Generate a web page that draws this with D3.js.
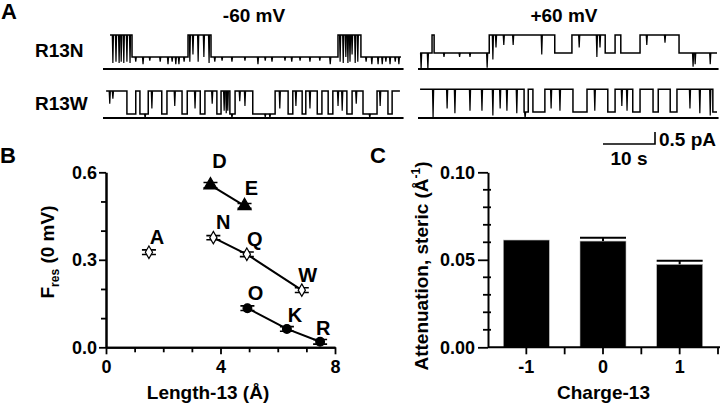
<!DOCTYPE html>
<html>
<head>
<meta charset="utf-8">
<script src="https://cdn.jsdelivr.net/npm/d3@7"></script>
<style>
  body { margin: 0; background: #fff; }
  svg text { font-family: "Liberation Sans", Arial, sans-serif; font-weight: bold; fill: #000; }
</style>
</head>
<body>
<svg id="fig" width="720" height="408"></svg>
<script>
// ---- panel A: single channel records, [time (s), current (pA)] steps ----
var voltages = ["-60 mV", "+60 mV"];
var mutants = ["R13N", "R13W"];

var r13nNeg = [[1.35,1.42],[5.58,0.5],[16.35,1.42],[20.77,0.5],[45.19,1.42],[49.6,0.5],[57.3,0.5]];
var r13nNegSpikes = [[1.9,0.25],[2.5,0.3],[3.1,0.25],[3.5,0.3],[4.0,0.25],[4.6,0.3],[5.2,0.25],
  [16.7,0.3],[17.3,0.6],[18.3,0.3],[19.4,0.5],[20.4,0.25],
  [45.6,0.3],[46.2,0.25],[46.7,0.5],[47.1,0.25],[47.5,0.3],[47.9,0.6],[48.5,0.25],[49.0,0.3],
  [6.3,0.3],[7.7,0.2],[9.0,0.35],[11.0,0.3],[12.5,0.2],[13.3,0.3],[14.0,0.2],[14.6,0.2],[15.6,0.3],
  [21.5,0.3],[22.9,0.35],[24.8,0.3],[27.3,0.35],[29.8,0.2],[31.2,0.35],[32.5,0.3],[35.0,0.35],
  [36.3,0.3],[37.9,0.35],[39.8,0.3],[41.7,0.35],[43.7,0.2],[50.6,0.3],[51.7,0.2],[52.9,0.2],
  [53.7,0.2],[54.4,0.3],[55.2,0.2],[56.2,0.3],[56.9,0.2]];

var r13wNeg = [[0.6,1.12],[4.6,0.17],[6.3,1.12],[7.1,0.17],[8.7,1.12],[11.3,0.17],[12.3,1.12],[15.2,0.17],
  [16.2,1.12],[18.7,0.17],[19.6,1.12],[21.9,0.17],[22.7,1.12],[24.4,0.17],[25.4,1.12],[28.8,0.17],
  [33.1,1.12],[35.6,0.17],[36.5,1.12],[38.3,0.17],[39.0,1.12],[41.2,0.17],[42.1,1.12],[43.3,0.17],
  [44.2,1.12],[46.9,0.17],[47.9,1.12],[50.0,0.17],[52.7,1.12],[54.8,0.17],[55.6,1.12],[57.1,1.12]];
var r13wNegSpikes = [[1.3,0.6],[1.9,0.8],[9.4,0.4],[13.8,0.5],[17.7,0.4],[21.0,0.6],[23.3,0.3],[23.7,0.2],
  [24.0,0.3],[26.3,0.7],[27.3,0.5],[34.0,0.4],[37.1,0.5],[39.8,0.4],[45.2,0.5],[46.0,0.3],[48.7,0.6],
  [53.3,0.5],[8.1,0.0],[24.8,0.0],[31.2,0.05],[32.1,0.0],[51.3,0.0]];

var r13nPos = [[0.4,0.67],[2.7,1.42],[3.1,0.67],[13.7,1.42],[26.3,0.67],[29.6,1.42],[36.0,0.67],
  [37.9,1.42],[39.0,0.67],[42.7,1.42],[50.2,0.67],[57.5,0.67]];
var r13nPosSpikes = [[0.6,0.0],[1.9,0.0],[5.0,0.5],[8.0,0.5],[10.0,0.5],[13.3,0.05],[14.4,0.4],
  [15.0,0.9],[16.5,1.0],[18.3,1.0],[23.8,0.6],[31.0,0.9],[34.4,0.5],[35.0,0.9],[44.0,1.0],
  [47.5,1.1],[52.9,0.1],[53.3,0.2],[56.2,0.2]];

var r13wPos = [[0.4,1.2],[20.4,0.25],[21.2,1.2],[22.1,0.25],[24.4,1.2],[29.8,0.25],[32.5,1.2],[36.5,0.25],
  [37.9,1.2],[41.3,0.25],[42.7,1.2],[45.2,0.25],[46.2,1.2],[48.5,0.25],[49.8,1.2],[56.7,0.25],[57.5,0.25]];
var r13wPosSpikes = [[2.9,0.0],[5.6,0.4],[7.1,0.2],[10.0,0.3],[12.3,0.3],[14.4,0.1],[15.8,0.4],
  [17.1,0.3],[19.0,0.2],[20.6,0.0],[25.6,0.4],[27.3,0.3],[34.0,0.3],[39.2,0.5],[40.2,0.3],
  [52.3,0.4],[54.2,0.2],[56.2,0.1]];

var recordLength = 57.8;   // s
var scaleBarTime = 10;     // s
var scaleBarCurrent = 0.5; // pA

// ---- panel B ----
var bNames  = ["A", "D", "E", "N", "Q", "W", "O", "K", "R"];
var bLength = [1.5, 3.65, 4.84, 3.75, 4.92, 6.84, 4.94, 6.32, 7.48];
var bFres   = [0.326, 0.556, 0.485, 0.376, 0.319, 0.196, 0.134, 0.063, 0.019];
var bErr    = [0.008, 0.009, 0.008, 0.007, 0.008, 0.008, 0.008, 0.008, 0.008];
var bKind   = ["open", "tri", "tri", "open", "open", "open", "dot", "dot", "dot"];
var bLines  = [["D", "E"], ["N", "Q", "W"], ["O", "K", "R"]];

// ---- panel C ----
var cCharge = ["-1", "0", "1"];
var cAtten  = [0.0613, 0.0607, 0.0474];
var cErr    = [0.0, 0.0019, 0.0021];

var svg = d3.select("#fig");

function letter(txt, x, y) {
  svg.append("text").attr("x", x).attr("y", y).style("font-size", "22px").text(txt);
}

// ================= A =================
letter("A", 1, 19);

var secs = d3.scaleLinear().domain([0, 10]).range([0, 52]);
var amps = d3.scaleLinear().domain([0, 1]).range([0, -24]);

var colX = [103, 418];
var rowY = [69, 118];
var records = [[r13nNeg, r13nNegSpikes], [r13nPos, r13nPosSpikes], [r13wNeg, r13wNegSpikes], [r13wPos, r13wPosSpikes]];

svg.selectAll("text.volt").data(voltages).join("text")
  .attr("class", "volt")
  .attr("x", (d, i) => [254, 564][i])
  .attr("y", 22)
  .attr("text-anchor", "middle")
  .style("font-size", "19px")
  .text(d => d);

svg.selectAll("text.mut").data(mutants).join("text")
  .attr("class", "mut")
  .attr("x", 35)
  .attr("y", (d, i) => [57, 110][i])
  .style("font-size", "19px")
  .text(d => d);

function levelAt(steps, t) {
  var lv = steps[0][1];
  steps.forEach(function(s) { if (s[0] <= t) lv = s[1]; });
  return lv;
}

var traceLine = d3.line()
  .x(d => secs(d[0]))
  .y(d => amps(d[1]))
  .curve(d3.curveStepAfter);

records.forEach(function(rec, k) {
  var g = svg.append("g")
    .attr("transform", `translate(${colX[k % 2]}, ${rowY[Math.floor(k / 2)]})`);
  // zero current line
  g.append("line")
    .attr("x1", secs(0)).attr("x2", secs(recordLength))
    .attr("y1", amps(0)).attr("y2", amps(0))
    .attr("stroke", "#000").attr("stroke-width", 2);
  g.append("path")
    .attr("d", traceLine(rec[0]))
    .attr("fill", "none")
    .attr("stroke", "#000")
    .attr("stroke-width", 1.5);
  g.selectAll("path.spike").data(rec[1]).join("path")
    .attr("class", "spike")
    .attr("d", function(d) {
      var x = secs(d[0]), y0 = amps(levelAt(rec[0], d[0])), y1 = amps(d[1]);
      return `M${x - 0.6},${y0}L${x},${y1}L${x + 0.6},${y0}`;
    })
    .attr("fill", "none")
    .attr("stroke", "#000")
    .attr("stroke-width", 1.2);
});

// scale bar
var sb = svg.append("g").attr("transform", "translate(603, 144)");
sb.append("path")
  .attr("d", `M0,0H${secs(scaleBarTime)}V${amps(scaleBarCurrent)}`)
  .attr("fill", "none").attr("stroke", "#000").attr("stroke-width", 1.6);
sb.append("text").attr("x", secs(scaleBarTime) + 4).attr("y", 2)
  .style("font-size", "19px").text(scaleBarCurrent + " pA");
sb.append("text").attr("x", secs(scaleBarTime / 2)).attr("y", 21)
  .attr("text-anchor", "middle").style("font-size", "19px").text(scaleBarTime + " s");

// ================= B =================
letter("B", 0, 163);

var xB = d3.scaleLinear().domain([0, 8]).range([106, 335]);
var yB = d3.scaleLinear().domain([0, 0.6]).range([347.3, 172.3]);

function styleAxis(g) {
  g.selectAll("path.domain").attr("stroke-width", 2);
  g.selectAll(".tick line").attr("stroke-width", 1.8);
  g.selectAll("text").style("font-size", "18px").attr("font-family", null);
  g.attr("font-family", null).attr("font-size", null);
}

svg.append("g").attr("transform", "translate(0, 347.3)")
  .call(d3.axisBottom(xB).tickValues([1, 2, 3, 5, 6, 7]).tickSize(5).tickFormat("").tickSizeOuter(0))
  .call(styleAxis);
svg.append("g").attr("transform", "translate(0, 347.3)")
  .call(d3.axisBottom(xB).tickValues([0, 4, 8]).tickSize(7).tickPadding(6).tickFormat(d3.format("d")).tickSizeOuter(0))
  .call(styleAxis);
svg.append("g").attr("transform", "translate(106, 0)")
  .call(d3.axisLeft(yB).tickValues([0.1, 0.2, 0.4, 0.5]).tickSize(5).tickFormat("").tickSizeOuter(0))
  .call(styleAxis);
svg.append("g").attr("transform", "translate(106, 0)")
  .call(d3.axisLeft(yB).tickValues([0, 0.3, 0.6]).tickSize(7).tickPadding(2).tickFormat(d3.format(".1f")).tickSizeOuter(0))
  .call(styleAxis);

svg.append("text").attr("x", 208).attr("y", 399).attr("text-anchor", "middle")
  .style("font-size", "19px").text("Length-13 (Å)");

var yTitleB = svg.append("text")
  .attr("transform", "translate(54, 252) rotate(-90)")
  .attr("text-anchor", "middle")
  .style("font-size", "19px");
yTitleB.append("tspan").text("F");
yTitleB.append("tspan").attr("dy", 5).style("font-size", "12px").text("res");
yTitleB.append("tspan").attr("dy", -5).text(" (0 mV)");

var pts = bNames.map((n, i) => ({ name: n, x: bLength[i], y: bFres[i], e: bErr[i], kind: bKind[i] }));
var byName = {};
pts.forEach(p => byName[p.name] = p);

var connect = d3.line().x(d => xB(d.x)).y(d => yB(d.y));
svg.selectAll("path.fit").data(bLines).join("path")
  .attr("class", "fit")
  .attr("d", d => connect(d.map(n => byName[n])))
  .attr("fill", "none").attr("stroke", "#000").attr("stroke-width", 2);

var marks = svg.selectAll("g.pt").data(pts).join("g")
  .attr("class", "pt")
  .attr("transform", d => `translate(${xB(d.x)}, ${yB(d.y)})`);

marks.append("path")
  .attr("d", d => {
    var h = yB(0) - yB(d.e);
    return `M0,${-h}V${h}M-7,${-h}H7M-7,${h}H7`;
  })
  .attr("stroke", "#000").attr("stroke-width", 1.6).attr("fill", "none");

var symType = { open: d3.symbolDiamond, tri: d3.symbolTriangle, dot: d3.symbolCircle };
var symSize = { open: 45, tri: 75, dot: 60 };
marks.append("path")
  .attr("d", d => d3.symbol().type(symType[d.kind]).size(symSize[d.kind])())
  .attr("fill", d => d.kind === "open" ? "#fff" : "#000")
  .attr("stroke", "#000").attr("stroke-width", 1.2);

// label placement relative to each marker
var labelShift = { A: [8, -8], D: [9, -17], E: [7, -11], N: [10, -9], Q: [8, -8], W: [6, -8], O: [8, -8], K: [8, -7], R: [3, -7] };
marks.append("text")
  .attr("x", d => labelShift[d.name][0])
  .attr("y", d => labelShift[d.name][1])
  .attr("text-anchor", "middle")
  .style("font-size", "20px")
  .text(d => d.name);

// ================= C =================
letter("C", 370, 163);

var xC = d3.scaleBand().domain(cCharge).range([488, 718]).paddingInner(0.4).paddingOuter(0.2);
var yC = d3.scaleLinear().domain([0, 0.1]).range([347.3, 172.3]);
var stepC = xC.step();

svg.selectAll("rect.bar").data(cCharge).join("rect")
  .attr("class", "bar")
  .attr("x", d => xC(d))
  .attr("width", xC.bandwidth())
  .attr("y", (d, i) => yC(cAtten[i]))
  .attr("height", (d, i) => yC(0) - yC(cAtten[i]))
  .attr("fill", "#000")
  .attr("stroke", "#bbb").attr("stroke-width", 0.6);

svg.selectAll("path.err").data(cCharge.filter((d, i) => cErr[i] > 0)).join("path")
  .attr("class", "err")
  .attr("d", d => {
    var i = cCharge.indexOf(d);
    var cx = xC(d) + xC.bandwidth() / 2, top = yC(cAtten[i] + cErr[i]);
    return `M${cx},${yC(cAtten[i])}V${top}M${xC(d)},${top}H${xC(d) + xC.bandwidth()}`;
  })
  .attr("stroke", "#000").attr("stroke-width", 2).attr("fill", "none");

// x axis: ticks at category centres and at the partitions between them
var xAxisC = svg.append("g").attr("transform", "translate(0, 347.3)");
xAxisC.append("line").attr("x1", 488).attr("x2", 720).attr("stroke", "#000").attr("stroke-width", 2);
var xTicksC = cCharge.map(d => xC(d) + xC.bandwidth() / 2).concat(d3.range(1, 4).map(k => 488 + k * stepC));
xAxisC.selectAll("line.tk").data(xTicksC).join("line")
  .attr("class", "tk")
  .attr("x1", d => d).attr("x2", d => d).attr("y1", 0).attr("y2", 7)
  .attr("stroke", "#000").attr("stroke-width", 1.8);
xAxisC.selectAll("text").data(cCharge).join("text")
  .attr("x", d => xC(d) + xC.bandwidth() / 2)
  .attr("y", 26)
  .attr("text-anchor", "middle")
  .style("font-size", "18px")
  .text(d => d);

svg.append("g").attr("transform", "translate(488, 0)")
  .call(d3.axisLeft(yC).tickValues([0, 0.05, 0.1]).tickSize(10).tickPadding(3).tickFormat(d3.format(".2f")).tickSizeOuter(0))
  .call(styleAxis);
svg.append("g").attr("transform", "translate(488, 0)")
  .selectAll("line").data([0.01, 0.02, 0.03, 0.04, 0.06, 0.07, 0.08, 0.09]).join("line")
  .attr("x1", -5).attr("x2", 3)
  .attr("y1", d => yC(d)).attr("y2", d => yC(d))
  .attr("stroke", "#000").attr("stroke-width", 1.8);

svg.append("text").attr("x", 603.5).attr("y", 399).attr("text-anchor", "middle")
  .style("font-size", "19px").text("Charge-13");

var yTitleC = svg.append("text")
  .attr("transform", "translate(428, 266) rotate(-90)")
  .attr("text-anchor", "middle")
  .style("font-size", "19px");
yTitleC.append("tspan").text("Attenuation, steric (Å");
yTitleC.append("tspan").attr("dy", -8).style("font-size", "12px").text("-1");
yTitleC.append("tspan").attr("dy", 8).text(")");
</script>
</body>
</html>
